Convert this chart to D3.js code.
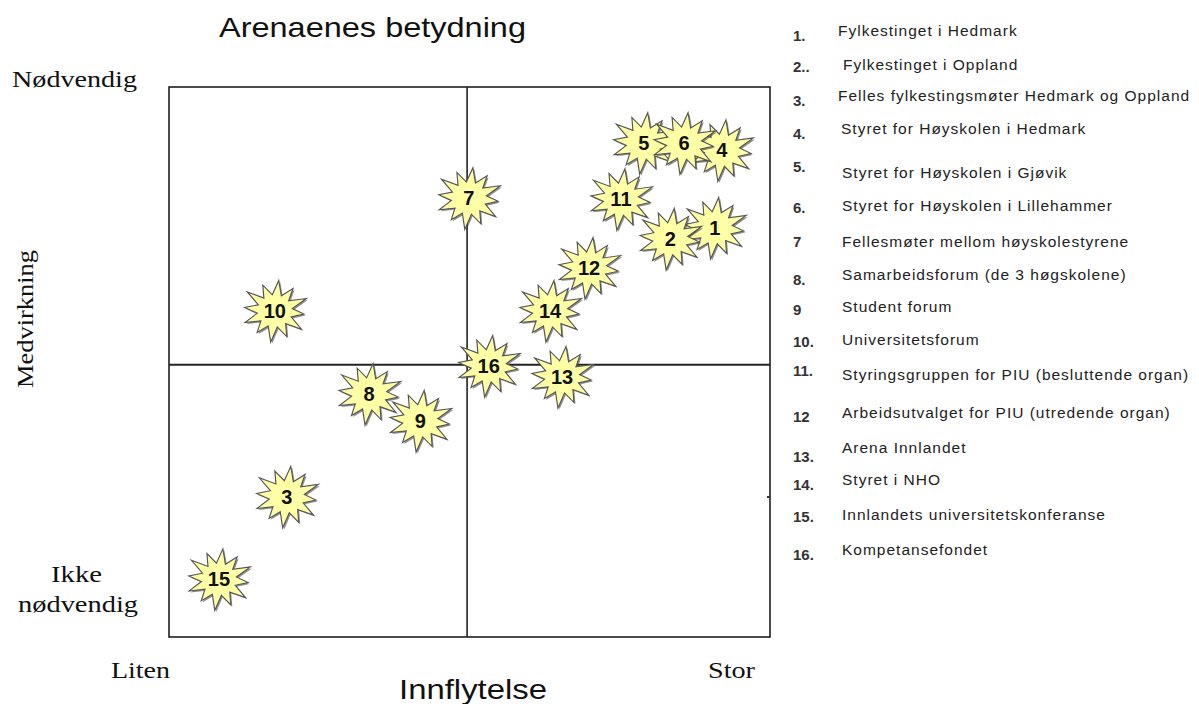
<!DOCTYPE html>
<html><head><meta charset="utf-8">
<script src="https://cdn.jsdelivr.net/npm/d3@7"></script>
<style>body{margin:0;background:#fff}svg{display:block}</style>
</head><body>
<svg id="c" width="1199" height="704"></svg>
<script>
const ids = [1,2,3,4,5,6,7,8,9,10,11,12,13,14,15,16];
const influence = [9.08,8.34,1.96,9.20,7.90,8.57,4.99,3.33,4.18,1.76,7.52,6.99,6.54,6.34,0.83,5.32];
const participation = [7.44,7.24,2.55,8.85,8.98,8.98,7.98,4.42,3.93,5.93,7.96,6.71,4.73,5.93,1.05,4.93];
const legendNums = ["1.","2..","3.","4.","5.","6.","7","8.","9","10.","11.","12","13.","14.","15.","16."];
const legendLabels = ["Fylkestinget i Hedmark","Fylkestinget i Oppland","Felles fylkestingsmøter Hedmark og Oppland","Styret for Høyskolen i Hedmark","Styret for Høyskolen i Gjøvik","Styret for Høyskolen i Lillehammer","Fellesmøter mellom høyskolestyrene","Samarbeidsforum (de 3 høgskolene)","Student forum","Universitetsforum","Styringsgruppen for PIU (besluttende  organ)","Arbeidsutvalget for PIU (utredende organ)","Arena Innlandet","Styret i NHO","Innlandets universitetskonferanse","Kompetansefondet"];
const title = "Arenaenes betydning";
const xTitle = "Innflytelse", yTitle = "Medvirkning";
const xLow = "Liten", xHigh = "Stor", yHigh = "Nødvendig", yLow = ["Ikke","nødvendig"];

const svg = d3.select("#c");
const L=169, R=770, T=87, B=637;
const x = d3.scaleLinear().domain([0,10]).range([L,R]);
const y = d3.scaleLinear().domain([0,10]).range([B,T]);

// frame
svg.append("rect").attr("x",L).attr("y",T).attr("width",R-L).attr("height",B-T)
  .attr("fill","none").attr("stroke","#111").attr("stroke-width",1.5);
svg.append("line").attr("x1",x(4.96)).attr("x2",x(4.96)).attr("y1",T).attr("y2",B)
  .attr("stroke","#222").attr("stroke-width",1.6);
svg.append("line").attr("x1",L).attr("x2",R).attr("y1",y(4.95)).attr("y2",y(4.95))
  .attr("stroke","#222").attr("stroke-width",2);
svg.append("rect").attr("x",767).attr("y",496).attr("width",3).attr("height",2).attr("fill","#333");

// star shape
const nPts = 12;
const outerR = [34,31,35,30,34,31,35,30,33,31,35,31];
const innerR = 18;
const star = [];
for(let i=0;i<nPts*2;i++){
  const a = i*Math.PI/nPts + 0.12;
  const r = i%2===0 ? outerR[i/2] : innerR;
  star.push([a, r]);
}
const starPath = d3.lineRadial().curve(d3.curveLinearClosed)(star);

const g = svg.append("g");
const nodes = g.selectAll("g.s").data(ids.map((d,i)=>({id:d,x:influence[i],y:participation[i]})))
  .enter().append("g").attr("transform",d=>`translate(${x(d.x)},${y(d.y)})`);
nodes.append("path").attr("d",starPath).attr("transform","translate(1.5,1.5) scale(0.98,0.9)")
  .attr("fill","#444").attr("opacity",0.6);
nodes.append("path").attr("d",starPath).attr("transform","scale(0.98,0.9)")
  .attr("fill","#ffffa6").attr("stroke","#555").attr("stroke-width",1.2);
nodes.append("text").text(d=>d.id).attr("text-anchor","middle").attr("dy","0.36em")
  .attr("font-family","Liberation Sans, Arial, sans-serif").attr("font-weight","bold")
  .attr("font-size",20).attr("fill","#111");

// texts
const sans = "Liberation Sans, Arial, sans-serif";
const SG = "spacingAndGlyphs";
svg.append("text").text(title).attr("x",219).attr("y",37).attr("textLength",307).attr("lengthAdjust",SG)
  .attr("font-family",sans).attr("font-size",28).attr("fill","#111");
svg.append("text").text(xTitle).attr("x",399).attr("y",699).attr("textLength",148).attr("lengthAdjust",SG)
  .attr("font-family",sans).attr("font-size",28).attr("fill","#111");
const serif = "Liberation Serif, Times New Roman, serif";
function st(t, xx, yy, len){
  svg.append("text").text(t).attr("x",xx).attr("y",yy).attr("textLength",len).attr("lengthAdjust",SG)
    .attr("font-family",serif).attr("font-size",24).attr("fill","#111");
}
st(yHigh,12,87,125);
st(yLow[0],51,582,51);
st(yLow[1],18,612,120);
st(xLow,111,678,59);
st(xHigh,708,678,47);
svg.append("text").text(yTitle).attr("transform","translate(33,388) rotate(-90)")
  .attr("textLength",138).attr("lengthAdjust",SG)
  .attr("font-family",serif).attr("font-size",24).attr("fill","#111");

// legend
const textBase = [36,70,101,134,178,211,247,280,312,345,380,418,453,485,520,555];
const numBase  = [41,72,106,139,172,213,247,285,315,347,376,422,462,490,522,560];
const textX = [838,843,838,841,842,842,842,842,842,842,842,842,842,842,842,842];
const lg = svg.append("g").attr("font-family",sans).attr("fill","#222");
legendNums.forEach((t,i)=>{
  lg.append("text").text(t).attr("x",793).attr("y",numBase[i]).attr("font-size",15).attr("font-weight","bold").attr("fill","#333");
  lg.append("text").text(legendLabels[i]).attr("x",textX[i]).attr("y",textBase[i])
    .attr("font-size",15.5).attr("letter-spacing",1.0);
});
</script>
</body></html>
